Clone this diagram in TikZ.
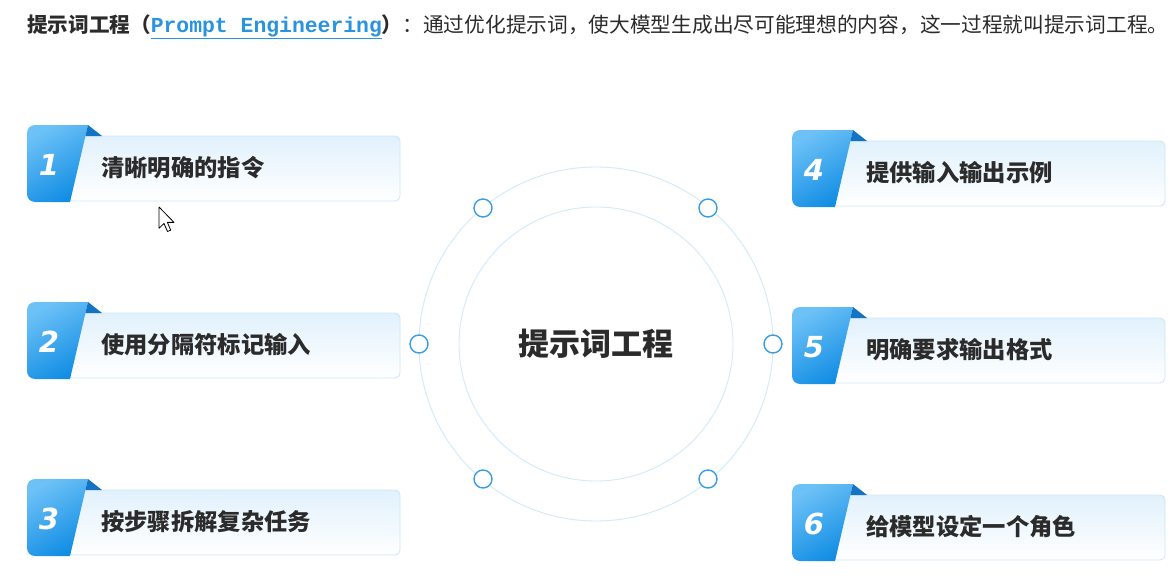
\documentclass[tikz,border=0pt]{standalone}
\usepackage{fontspec}
\newfontfamily\cjk{Noto Sans CJK SC}
\newfontfamily\numfont{DejaVu Sans}
\newfontfamily\monofont{Liberation Mono}
\definecolor{tabA}{HTML}{6CC1F6}
\definecolor{tabB}{HTML}{128DE4}
\definecolor{tabfold}{HTML}{1274C2}
\definecolor{cardtop}{HTML}{E1F1FC}
\definecolor{cardline}{HTML}{CBE6F8}
\definecolor{txtdark}{HTML}{2B2B2B}
\definecolor{ringcol}{HTML}{D2EAF9}
\definecolor{dotblue}{HTML}{3A9DE2}
\definecolor{linkblue}{HTML}{2A93DD}
\tikzset{
  cardbody/.style={rounded corners=5pt, top color=cardtop, bottom color=white, draw=cardline, line width=0.8pt},
  tabshape/.style={top color=tabA, bottom color=tabB, shading angle=30},
  foldshape/.style={fill=tabfold},
  numtext/.style={font=\numfont\bfseries\itshape\fontsize{29}{29}\selectfont, text=white, inner sep=0pt},
  cardtext/.style={font=\cjk\bfseries\fontsize{23.3}{25}\selectfont, text=txtdark, anchor=west, inner sep=0pt},
  ring/.style={draw=ringcol, line width=0.9pt},
  dotnode/.style={circle, draw=dotblue, fill=white, line width=1.4pt, minimum size=18pt, inner sep=0pt},
  centertext/.style={font=\cjk\bfseries\fontsize{31}{33}\selectfont, text=txtdark, inner sep=0pt},
}
\newcommand{\promptcard}[5]{%
  \begin{scope}[shift={(#1,#2)}]
    \shade[cardbody] (40,11) rectangle (373,76);
    \shade[tabshape] (61,0) -- (8,0) arc[start angle=270, end angle=180, radius=8]
      -- (0,69) arc[start angle=180, end angle=90, radius=8] -- (43,77) -- cycle;
    \fill[foldshape] (61,0) -- (75,11) -- (58.4,11) -- cycle;
    \node[numtext] (#3num) at (22,40) {#4};
    \node[cardtext] (#3txt) at (74,42.5) {#5};
  \end{scope}}
\begin{document}
\begin{tikzpicture}[x=1pt,y=-1pt]
\useasboundingbox (0,0) rectangle (1171,578);
\fill[white] (0,0) rectangle (1171,578);
% title line
\node[anchor=west, inner sep=0pt, text=txtdark] (title) at (27,27)
  {{\cjk\bfseries\fontsize{20.6}{22}\selectfont 提示词工程（}{\monofont\bfseries\fontsize{21.4}{22}\selectfont\color{linkblue}\underline{Prompt Engineering}}{\cjk\bfseries\fontsize{20.6}{22}\selectfont ）}{\cjk\fontsize{20.7}{22}\selectfont ：通过优化提示词，使大模型生成出尽可能理想的内容，这一过程就叫提示词工程。}};
% rings
\node[circle, ring, minimum size=354pt, inner sep=0pt] (outer) at (596,344) {};
\node[circle, ring, minimum size=274pt, inner sep=0pt] (inner) at (596,344) {};
\node[centertext] (center) at (596,344) {提示词工程};
% dots on outer ring
\node[dotnode] (d1) at (483,208) {};
\node[dotnode] (d4) at (708,208) {};
\node[dotnode] (d2) at (419,344) {};
\node[dotnode] (d5) at (773,344) {};
\node[dotnode] (d3) at (483,479) {};
\node[dotnode] (d6) at (708,479) {};
% cards
\promptcard{27}{125}{c1}{1}{清晰明确的指令}
\promptcard{27}{302}{c2}{2}{使用分隔符标记输入}
\promptcard{27}{479}{c3}{3}{按步骤拆解复杂任务}
\promptcard{792}{130}{c4}{4}{提供输入输出示例}
\promptcard{792}{307}{c5}{5}{明确要求输出格式}
\promptcard{792}{484}{c6}{6}{给模型设定一个角色}
% cursor
\begin{scope}[shift={(159,207)}, scale=1.25]
  \draw[fill=white, draw=black, line width=0.8pt, line join=round]
    (0,0) -- (0,17) -- (4,13.2) -- (6.8,19.6) -- (9.4,18.5) -- (6.7,12.3) -- (12,12.3) -- cycle;
\end{scope}
\end{tikzpicture}
\end{document}
